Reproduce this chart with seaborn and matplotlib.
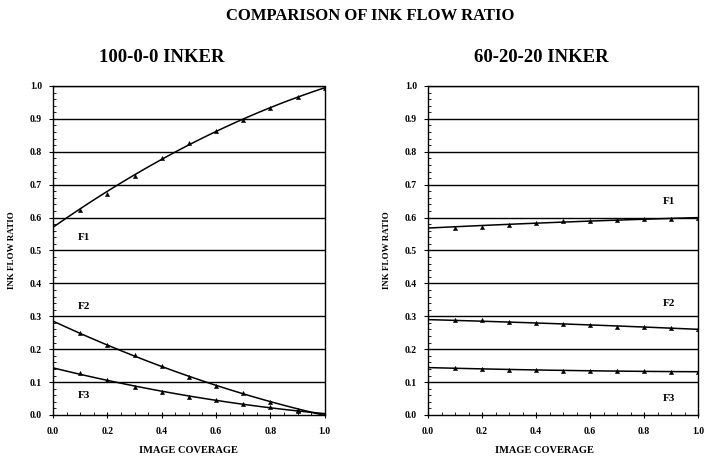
import numpy as np
import pandas as pd
import seaborn as sns
import matplotlib
matplotlib.use("Agg")
import matplotlib.pyplot as plt
from matplotlib.ticker import MultipleLocator, FormatStrFormatter

# Image coverage (0.0 is the fitted starting value, no measured point)
coverage = [0.0, 0.1, 0.2, 0.3, 0.4, 0.5, 0.6, 0.7, 0.8, 0.9, 1.0]

# 100-0-0 inker: ink flow ratio per form roller
f1_100 = [0.577, 0.623, 0.672, 0.727, 0.780, 0.828, 0.864, 0.897, 0.933, 0.965, 0.995]
f2_100 = [0.284, 0.248, 0.213, 0.182, 0.149, 0.115, 0.089, 0.066, 0.040, 0.015, 0.002]
f3_100 = [0.142, 0.127, 0.106, 0.086, 0.070, 0.056, 0.046, 0.034, 0.024, 0.013, 0.002]

# 60-20-20 inker
f1_60 = [0.573, 0.569, 0.572, 0.577, 0.584, 0.590, 0.590, 0.593, 0.595, 0.597, 0.599]
f2_60 = [0.285, 0.290, 0.290, 0.283, 0.280, 0.276, 0.272, 0.268, 0.266, 0.265, 0.262]
f3_60 = [0.143, 0.144, 0.141, 0.137, 0.136, 0.135, 0.135, 0.134, 0.133, 0.132, 0.131]

panels = [
    ("100-0-0 INKER", 0.40, {"F1": f1_100, "F2": f2_100, "F3": f3_100},
     {"F1": (0.09, 0.54), "F2": (0.09, 0.33), "F3": (0.09, 0.06)}, 0.5),
    ("60-20-20 INKER", 0.42, {"F1": f1_60, "F2": f2_60, "F3": f3_60},
     {"F1": (0.87, 0.65), "F2": (0.87, 0.34), "F3": (0.87, 0.05)}, 0.43),
]

sns.set_theme(style="white")
plt.rcParams["font.family"] = ["Liberation Serif", "DejaVu Serif"]
plt.rcParams["font.weight"] = "bold"
plt.rcParams["text.color"] = "black"
plt.rcParams["axes.labelcolor"] = "black"
plt.rcParams["xtick.color"] = "black"
plt.rcParams["ytick.color"] = "black"

fig = plt.figure(figsize=(7.04, 4.63), dpi=100)
fig.patch.set_facecolor("white")
fig.text(0.526, 0.965, "COMPARISON OF INK FLOW RATIO", ha="center", va="center",
         fontsize=12, fontweight="bold", color="black")

axes_rects = [[0.0753, 0.1037, 0.386, 0.7106], [0.608, 0.1037, 0.3835, 0.7106]]

for rect, (title, title_x, series, label_pos, xlab_x) in zip(axes_rects, panels):
    ax = fig.add_axes(rect)
    ax.set_facecolor("white")
    ax.set_xlim(0, 1.0)
    ax.set_ylim(0, 1.0)
    ax.set_yticks(np.arange(0, 1.01, 0.1))
    ax.set_xticks(np.arange(0, 1.01, 0.2))
    ax.yaxis.set_minor_locator(MultipleLocator(0.02))
    ax.xaxis.set_minor_locator(MultipleLocator(0.05))
    ax.yaxis.set_major_formatter(FormatStrFormatter("%.1f"))
    ax.xaxis.set_major_formatter(FormatStrFormatter("%.1f"))
    for yv in np.arange(0.1, 1.01, 0.1):
        ax.axhline(yv, color="black", lw=1.0, zorder=1)

    for name, vals in series.items():
        df = pd.DataFrame({"coverage": coverage, "ratio": vals})
        # smooth fitted curve over the full coverage range
        sns.regplot(data=df, x="coverage", y="ratio", order=2, ci=None,
                    truncate=False, scatter=False, ax=ax,
                    line_kws={"color": "black", "lw": 1.1, "zorder": 2})
        # measured points
        sns.scatterplot(data=df.iloc[1:], x="coverage", y="ratio", ax=ax,
                        marker="^", s=10, color="black", edgecolor="black",
                        zorder=3, legend=False)
        lx, ly = label_pos[name]
        ax.text(lx, ly, name, fontsize=8, fontweight="bold", ha="left", va="center")

    ax.set_xlim(0, 1.0)
    ax.set_ylim(0, 1.0)
    for side in ["left", "bottom", "right", "top"]:
        ax.spines[side].set_visible(True)
        ax.spines[side].set_color("black")
        ax.spines[side].set_linewidth(1.0)
    ax.spines["right"].set_linestyle((0, (2, 1)))
    ax.tick_params(axis="y", which="major", direction="out", length=3, width=0.8,
                   labelsize=7, pad=5, left=True)
    ax.tick_params(axis="y", which="minor", direction="in", length=2, width=0.6,
                   left=True)
    ax.tick_params(axis="x", which="major", direction="inout", length=5, width=0.8,
                   labelsize=7, pad=6, bottom=True)
    ax.tick_params(axis="x", which="minor", direction="in", length=2, width=0.6,
                   bottom=True)
    ax.set_xlabel("IMAGE COVERAGE", fontsize=7.5, fontweight="bold")
    ax.xaxis.set_label_coords(xlab_x, -0.095)
    ax.set_ylabel("INK FLOW RATIO", fontsize=6.5, fontweight="bold", labelpad=10)
    ax.set_title(title, fontsize=13.5, fontweight="bold", pad=17, x=title_x)

fig.savefig("out.png", dpi=100, facecolor="white")
